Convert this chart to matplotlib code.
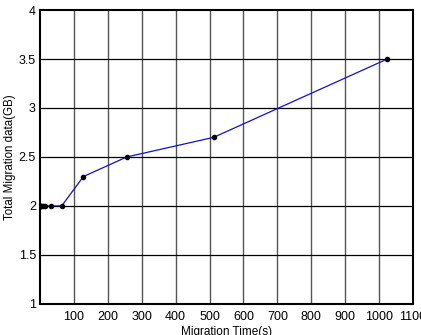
import matplotlib
matplotlib.use("Agg")
import matplotlib.pyplot as plt

# migration time (s) vs total migrated data (GB)
times = [1, 2, 4, 8, 16, 32, 64, 128, 256, 512, 1024]
data_gb = [2, 2, 2, 2, 2, 2, 2, 2.3, 2.5, 2.7, 3.5]
xticks = [100, 200, 300, 400, 500, 600, 700, 800, 900, 1000, 1100]
yticks = [1, 1.5, 2, 2.5, 3, 3.5, 4]

plt.rcParams['font.family'] = ['Liberation Sans', 'DejaVu Sans']

fig = plt.figure(figsize=(4.21, 3.35), dpi=100)
ax = fig.add_axes([0.095, 0.093, 0.886, 0.877])

ax.plot(times, data_gb, color='#1010d0', linewidth=0.9, marker='o',
        markersize=3, markerfacecolor='black', markeredgecolor='black', zorder=3)

ax.set_xlim(0, 1100)
ax.set_ylim(1, 4)
ax.set_xticks(xticks)
ax.set_yticks(yticks)
ax.set_yticklabels(['1', '1.5', '2', '2.5', '3', '3.5', '4'])
ax.tick_params(length=0, labelsize=9)
ax.tick_params(axis='y', pad=3)
ax.tick_params(axis='x', pad=5)

for x in range(100, 1100, 100):
    ax.axvline(x, color='#555555', linewidth=1.0, zorder=1)
for y in [1.5, 2, 2.5, 3, 3.5]:
    ax.axhline(y, color='black', linewidth=0.9, zorder=1)

for s in ax.spines.values():
    s.set_linewidth(1.5)

ax.set_xlabel('Migration Time(s)', fontsize=8.5, labelpad=2)
ax.set_ylabel('Total Migration data(GB)', fontsize=8.3, labelpad=2)

fig.savefig('out.png', dpi=100)
